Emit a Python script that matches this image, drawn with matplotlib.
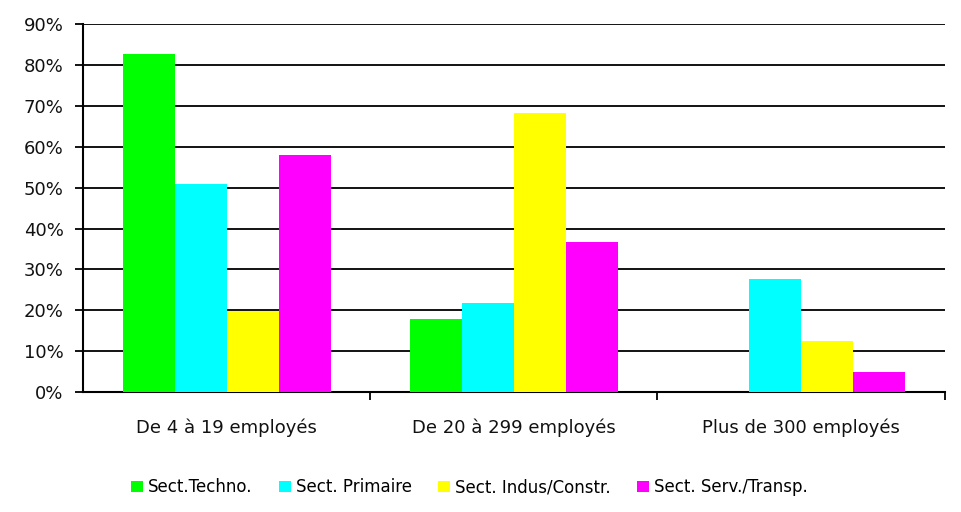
import numpy as np
import matplotlib.pyplot as plt
from matplotlib.ticker import FuncFormatter, FixedLocator

# data
categories = ['De 4 à 19 employés', 'De 20 à 299 employés', 'Plus de 300 employés']
series_names = ['Sect.Techno.', 'Sect. Primaire', 'Sect. Indus/Constr.', 'Sect. Serv./Transp.']
techno = [82.8, 17.8, 0.0]
primaire = [51.0, 21.7, 27.6]
indus = [19.8, 68.2, 12.4]
serv = [57.9, 36.8, 5.0]
data = [techno, primaire, indus, serv]
colors = ['#00ff00', '#00ffff', '#ffff00', '#ff00ff']
yticks = [0, 10, 20, 30, 40, 50, 60, 70, 80, 90]

plt.rcParams['font.family'] = ['DejaVu Sans']

fig = plt.figure(figsize=(9.62, 5.12), dpi=100)
ax = fig.add_axes([0.0863, 0.234, 0.8957, 0.719])

x = np.arange(len(categories))
width = 0.181
for i, (vals, c) in enumerate(zip(data, colors)):
    ax.bar(x + (i - 1.5) * width, vals, width, color=c, label=series_names[i], zorder=3)

ax.set_xlim(-0.5, len(categories) - 0.5)
ax.set_ylim(0, 90)
ax.set_yticks(yticks)
ax.yaxis.set_major_formatter(FuncFormatter(lambda v, p: f'{v:.0f}%'))
ax.grid(axis='y', color='black', linewidth=1.3, zorder=0)

ax.set_xticks(x)
ax.set_xticklabels(categories)
ax.xaxis.set_minor_locator(FixedLocator([0.5, 1.5, 2.5]))
ax.tick_params(axis='x', which='major', length=0, pad=19, labelsize=13, colors='#111111')
ax.tick_params(axis='x', which='minor', length=6, width=1.3, direction='out')
ax.tick_params(axis='y', length=6, width=1.3, direction='out', labelsize=13, pad=8,
               labelcolor='#111111')

for s in ['top', 'right']:
    ax.spines[s].set_visible(False)
for s in ['left', 'bottom']:
    ax.spines[s].set_linewidth(1.5)

fig.legend(loc='center', bbox_to_anchor=(0.488, 0.048), ncol=4, frameon=False,
           fontsize=12, handlelength=0.7, handleheight=0.7, handletextpad=0.3,
           columnspacing=1.6)

fig.savefig('out.png', dpi=100, facecolor='white')
